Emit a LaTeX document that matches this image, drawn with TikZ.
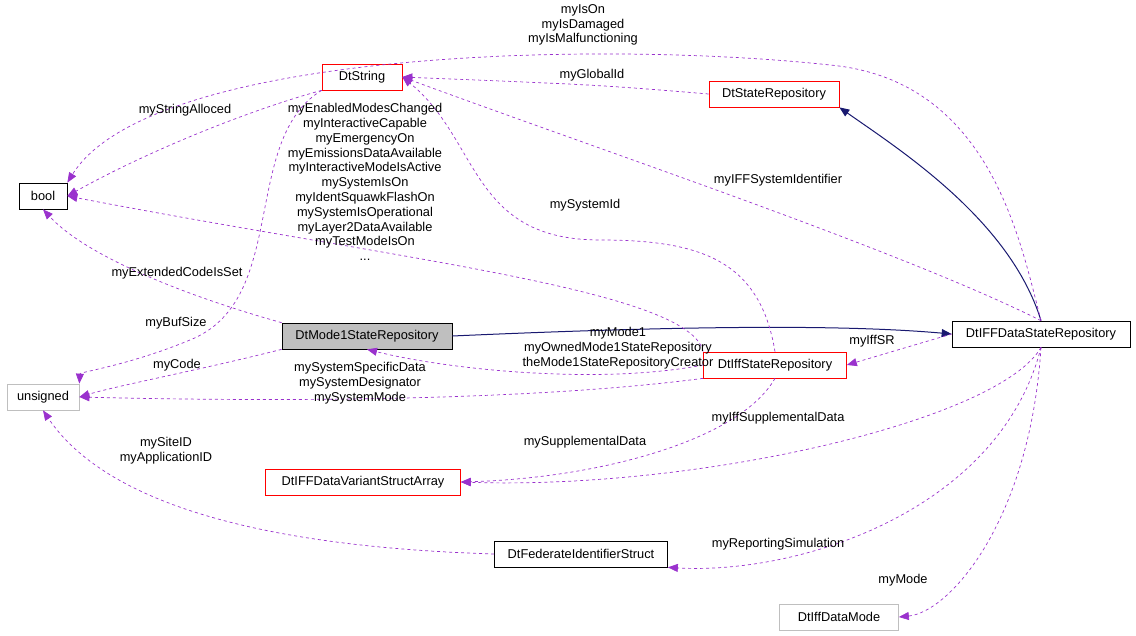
\documentclass[tikz,border=0pt]{standalone}
\usepackage{fontspec}
\setmainfont{Liberation Sans}
\usetikzlibrary{arrows.meta}
\definecolor{edgepurple}{HTML}{9A32CD}
\definecolor{edgenavy}{HTML}{191970}
\definecolor{boxgray}{HTML}{BFBFBF}
\tikzset{
  cls/.style = {rectangle, draw=black, line width=0.7pt, minimum height=26pt, inner xsep=5pt, font=\fontsize{12.8}{14.8}\selectfont},
  redcls/.style = {cls, draw=red},
  graycls/.style = {cls, draw=boxgray},
  usage/.style = {dashed, line width=0.7pt, edgepurple, -{Triangle[length=10pt,width=8pt]}},
  inherit/.style = {edgenavy, line width=1pt, -{Triangle[length=10pt,width=8pt]}},
  lbl/.style = {align=center, inner sep=0pt, font=\fontsize{12.8}{14.8}\selectfont}
}
\begin{document}
\begin{tikzpicture}[x=1pt,y=-1pt]
  \useasboundingbox (0,0) rectangle (1136,636);

  \node[cls, minimum width=48pt] (bool) at (43,196) {bool};
  \node[graycls, minimum width=72pt] (unsigned) at (43,397) {unsigned};
  \node[redcls, minimum width=80pt] (dtstring) at (362,77) {DtString};
  \node[redcls, draw=red, minimum width=130pt] (staterep) at (774,94) {DtStateRepository};
  \node[cls, fill=boxgray, minimum width=170pt] (mode1) at (367,336) {DtMode1StateRepository};
  \node[cls, minimum width=178pt] (iffdata) at (1041,334) {DtIFFDataStateRepository};
  \node[redcls, minimum width=143pt] (iffstate) at (775,365) {DtIffStateRepository};
  \node[redcls, minimum width=195pt] (variant) at (363,482) {DtIFFDataVariantStructArray};
  \node[cls, minimum width=173pt] (fedid) at (581,554) {DtFederateIdentifierStruct};
  \node[graycls, minimum width=119pt] (datamode) at (839,617) {DtIffDataMode};

  % Inheritance
  \draw[inherit] (iffdata.north) .. controls (1010,220) and (900,150) .. (staterep.south east);
  \draw[inherit] (mode1.east) .. controls (700,325) and (850,325) .. (iffdata.west);

  % Usage
  \draw[usage] (iffdata.north) .. controls (1020,240) and (990,80) .. (830,65)
    .. controls (600,40) and (150,50) .. (bool.north east);
  \draw[usage] (dtstring.south west) .. controls (250,110) and (150,150) .. (bool.east);
  \draw[usage] (dtstring.south west) .. controls (240,140) and (290,300) .. (190,340)
    .. controls (130,365) and (80,372) .. (unsigned.north east);
  \draw[usage] (staterep.west) .. controls (600,85) .. (dtstring.east);
  \draw[usage] (iffstate.north) .. controls (760,260) and (700,240) .. (600,240)
    .. controls (470,240) and (480,140) .. (dtstring.east);
  \draw[usage] (iffdata.north) .. controls (900,250) and (600,150) .. (dtstring.east);
  \draw[usage] (iffstate.north west) .. controls (690,290) and (400,260) .. (bool.east);
  \draw[usage] (mode1.north west) .. controls (200,300) and (90,260) .. (bool.south);
  \draw[usage] (mode1.south west) .. controls (200,370) and (120,385) .. (unsigned.east);
  \draw[usage] (iffstate.west) .. controls (600,385) and (450,370) .. (mode1.south);
  \draw[usage] (iffstate.south west) .. controls (500,405) and (200,400) .. (unsigned.east);
  \draw[usage] (iffdata.west) -- (iffstate.east);
  \draw[usage] (iffstate.south) .. controls (740,440) and (600,478) .. (variant.east);
  \draw[usage] (iffdata.south) .. controls (1000,420) and (700,490) .. (variant.east);
  \draw[usage] (fedid.west) .. controls (200,545) and (90,480) .. (unsigned.south);
  \draw[usage] (iffdata.south) .. controls (1000,510) and (800,575) .. (fedid.south east);
  \draw[usage] (iffdata.south) .. controls (1030,520) and (950,612) .. (datamode.east);

  % Labels
  \node[lbl] (lblison) at (583,25) {myIsOn\\myIsDamaged\\myIsMalfunctioning};
  \node[lbl] (lblalloc) at (185,110) {myStringAlloced};
  \node[lbl] (lblglobal) at (592,75) {myGlobalId};
  \node[lbl] (lblenabled) at (365,182) {myEnabledModesChanged\\myInteractiveCapable\\myEmergencyOn\\myEmissionsDataAvailable\\myInteractiveModeIsActive\\mySystemIsOn\\myIdentSquawkFlashOn\\mySystemIsOperational\\myLayer2DataAvailable\\myTestModeIsOn\\...};
  \node[lbl] (lblsysid) at (585,205) {mySystemId};
  \node[lbl] (lbliffsys) at (778,180) {myIFFSystemIdentifier};
  \node[lbl] (lblext) at (177,273) {myExtendedCodeIsSet};
  \node[lbl] (lblbuf) at (176,323) {myBufSize};
  \node[lbl] (lblcode) at (177,365) {myCode};
  \node[lbl] (lblmode1) at (618,348) {myMode1\\myOwnedMode1StateRepository\\theMode1StateRepositoryCreator};
  \node[lbl] (lblsysspec) at (360,383) {mySystemSpecificData\\mySystemDesignator\\mySystemMode};
  \node[lbl] (lbliffsr) at (872,341) {myIffSR};
  \node[lbl] (lblsupp) at (585,442) {mySupplementalData};
  \node[lbl] (lbliffsupp) at (778,418) {myIffSupplementalData};
  \node[lbl] (lblsite) at (166,451) {mySiteID\\myApplicationID};
  \node[lbl] (lblrep) at (778,544) {myReportingSimulation};
  \node[lbl] (lblmode) at (903,580) {myMode};
\end{tikzpicture}
\end{document}
